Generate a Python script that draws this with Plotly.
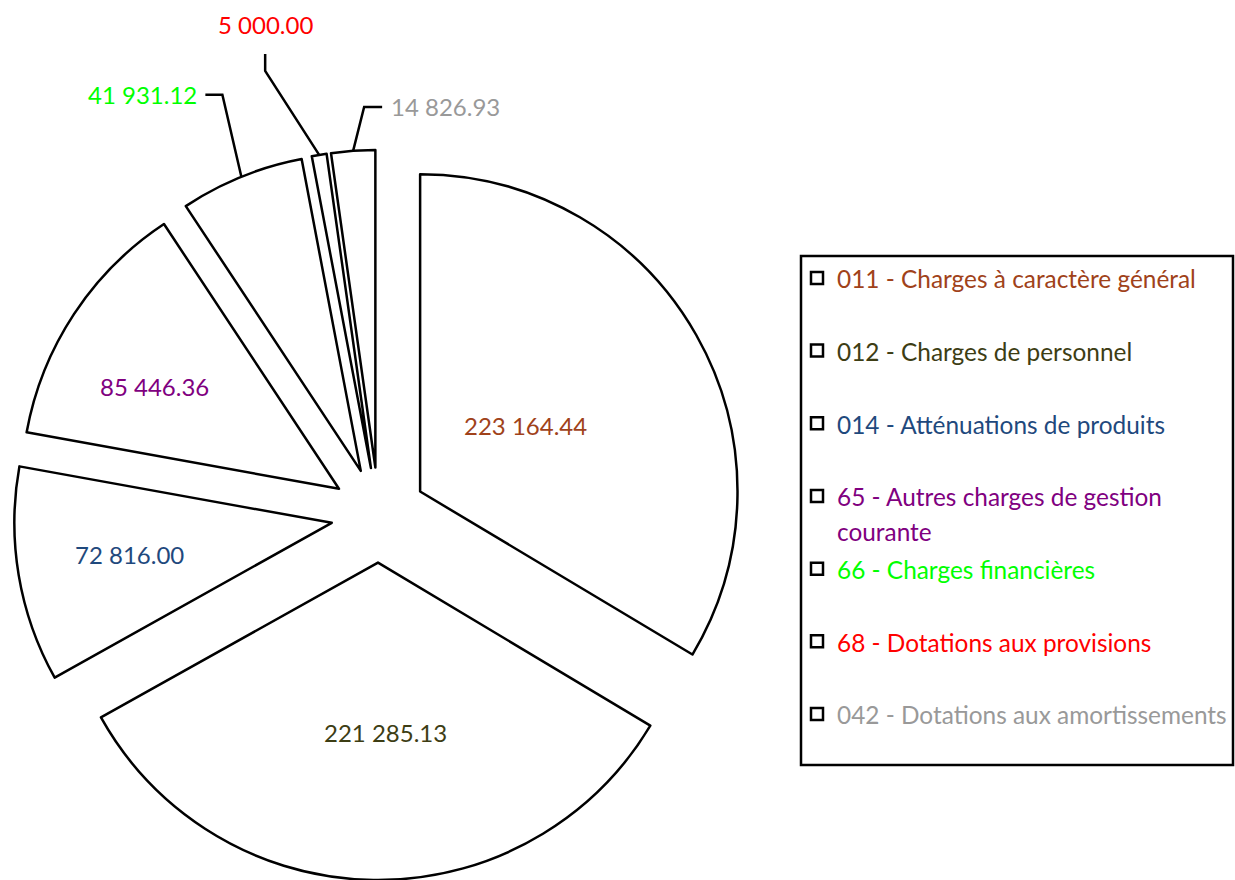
import math
import plotly.graph_objects as go

# ---------------- data ----------------
categories = [
    "011 - Charges à caractère général",
    "012 - Charges de personnel",
    "014 - Atténuations de produits",
    "65 - Autres charges de gestion courante",
    "66 - Charges financières",
    "68 - Dotations aux provisions",
    "042 - Dotations aux amortissements",
]
values = [223164.44, 221285.13, 72816.00, 85446.36, 41931.12, 5000.00, 14826.93]
label_colors = ["#A0421A", "#3D3D14", "#1F497D", "#800080", "#00FF00", "#FF0000", "#999999"]

# ---------------- styles ----------------
W, H = 1235, 880
PULL = 0.15
FONT = "Lato"
LABEL_SIZE = 24
LEGEND_TEXT_SIZE = 24.4
LINE_W = 2.5
DOM_X = [13.7 / W, 743.7 / W]
DOM_Y = [0.0, 730.0 / H]

# label placement style: ("in", radial fraction, angle tweak in degrees)
# or ("out", elbow offset, tail offset, side)
label_style = [
    ("in", 0.39, -2.5),
    ("in", 0.536, -3.5),
    ("in", 0.644, 0.6),
    ("in", 0.666, -4.4),
    ("out", (-19, -82), (-17, 0), "left"),
    ("out", (-54, -84), (0, -17), "up"),
    ("out", (11, -44), (18, 0), "right"),
]


def fmt(v):
    return f"{v:,.2f}".replace(",", " ")


def span(text, color):
    return f'<span style="color:{color};font-size:{LEGEND_TEXT_SIZE}px">{text}</span>'


def legend_label(name, color):
    if name.startswith("65 - "):
        return span("65 - Autres charges de gestion", color) + "<br>" + span("courante", color)
    return span(name, color) + "<br> "


labels = [legend_label(n, c) for n, c in zip(categories, label_colors)]

fig = go.Figure()
fig.add_trace(go.Pie(
    labels=labels,
    values=values,
    sort=False,
    direction="clockwise",
    rotation=0,
    pull=[PULL] * len(values),
    marker=dict(colors=["white"] * len(values), line=dict(color="black", width=LINE_W)),
    textinfo="none",
    hoverinfo="value+percent",
    domain=dict(x=DOM_X, y=DOM_Y),
))

# geometry of the pie as plotly lays it out (margins are zero)
cx = W * (DOM_X[0] + DOM_X[1]) / 2
cy = H * (1 - (DOM_Y[0] + DOM_Y[1]) / 2)
r = min(W * (DOM_X[1] - DOM_X[0]), H * (DOM_Y[1] - DOM_Y[0])) / 2 / (1 + PULL)
total = sum(values)


def px2paper(x, y):
    return x / W, 1 - y / H


annotations = []
shapes = []
cum = 0.0
for v, c, st in zip(values, label_colors, label_style):
    mid_deg = (cum + v / 2) / total * 360
    cum += v
    mid = math.radians(mid_deg)
    dx, dy = math.sin(mid), -math.cos(mid)
    tipx, tipy = cx + PULL * r * dx, cy + PULL * r * dy
    if st[0] == "in":
        _, k, tweak = st
        a = math.radians(mid_deg + tweak)
        lx, ly = tipx + k * r * math.sin(a), tipy - k * r * math.cos(a)
        px, py = px2paper(lx, ly)
        annotations.append(dict(x=px, y=py, xref="paper", yref="paper", text=fmt(v),
                                showarrow=False, xanchor="center", yanchor="middle",
                                font=dict(family=FONT, size=LABEL_SIZE, color=c)))
    else:
        _, eoff, toff, side = st
        ax, ay = tipx + r * dx, tipy + r * dy
        ex, ey = ax + eoff[0], ay + eoff[1]
        tx, ty = ex + toff[0], ey + toff[1]
        pts = [px2paper(ax, ay), px2paper(ex, ey), px2paper(tx, ty)]
        path = "M {} {} L {} {} L {} {}".format(*[f"{q:.5f}" for p in pts for q in p])
        shapes.append(dict(type="path", path=path, xref="paper", yref="paper",
                           line=dict(color="black", width=LINE_W)))
        if side == "left":
            px, py = px2paper(tx - 6, ty)
            xa, ya = "right", "middle"
        elif side == "right":
            px, py = px2paper(tx + 7, ty)
            xa, ya = "left", "middle"
        else:
            px, py = px2paper(tx, ty - 29)
            xa, ya = "center", "middle"
        annotations.append(dict(x=px, y=py, xref="paper", yref="paper", text=fmt(v),
                                showarrow=False, xanchor=xa, yanchor=ya,
                                font=dict(family=FONT, size=LABEL_SIZE, color=c)))

# legend frame
shapes.append(dict(type="rect", xref="paper", yref="paper",
                   x0=801 / W, x1=1233 / W, y0=1 - 765 / H, y1=1 - 256 / H,
                   line=dict(color="black", width=LINE_W), fillcolor="rgba(0,0,0,0)"))

fig.update_layout(
    width=W, height=H,
    margin=dict(l=0, r=0, t=0, b=0),
    paper_bgcolor="white",
    plot_bgcolor="white",
    font=dict(family=FONT, color="black"),
    showlegend=True,
    legend=dict(
        x=797 / W, y=1 - 254 / H, xanchor="left", yanchor="top",
        font=dict(family=FONT, size=26.8, color="black"),
        valign="top", bgcolor="rgba(0,0,0,0)", borderwidth=0,
        traceorder="normal",
    ),
    annotations=annotations,
    shapes=shapes,
)

fig.write_html("out.html", config={"displayModeBar": False},
               post_script="document.body.style.margin='0';")
